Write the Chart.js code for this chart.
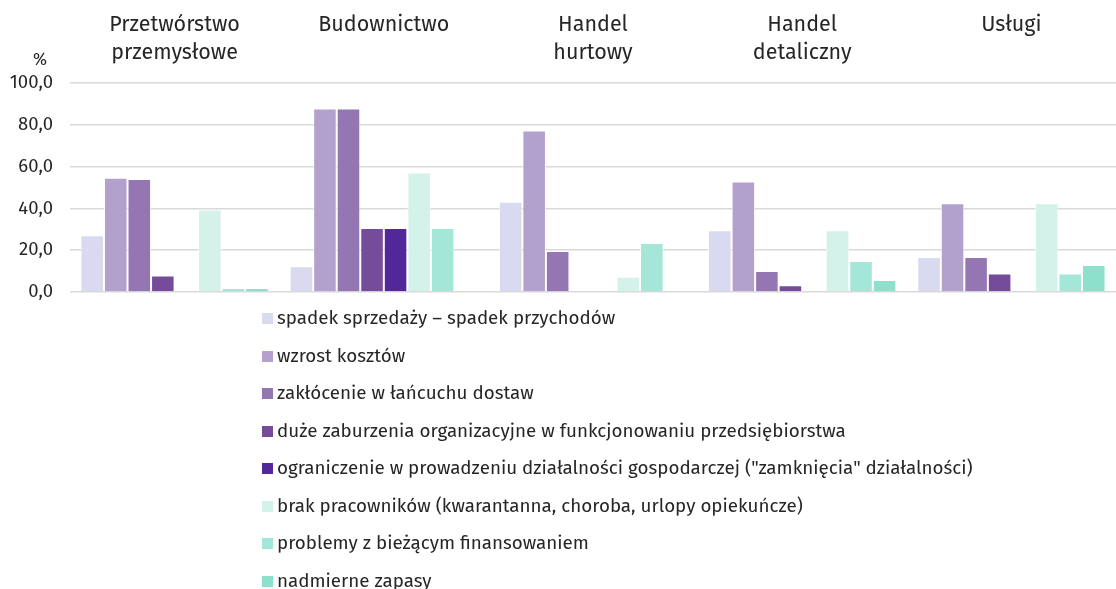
<!DOCTYPE html>
<html lang="pl">
<head>
<meta charset="utf-8">
<title>Skutki pandemii według sekcji</title>
<script src="https://cdn.jsdelivr.net/npm/chart.js@4/dist/chart.umd.min.js"></script>
<style>
  html, body { margin: 0; padding: 0; background: #fff; overflow: hidden; }
  body { position: relative; width: 1116px; height: 589px; font-family: "Fira Sans", "Noto Sans", Roboto, sans-serif; }
  #chartBox { position: absolute; left: 0; top: 0; width: 1116px; height: 320px; }
  #legend { position: absolute; left: 262px; top: 299px; margin: 0; padding: 0; list-style: none; color: #262626; font-size: 18.8px; }
  #legend li { height: 37.5px; line-height: 37.5px; white-space: nowrap; }
  #legend .box { display: inline-block; width: 11px; height: 11px; margin-right: 4px; vertical-align: 0px; }
</style>
</head>
<body>
<div id="chartBox"><canvas id="chart"></canvas></div>
<ul id="legend"></ul>
<script>
(function(){
  'use strict';

  // categories (top axis), each as lines
  const categories = [
    ['Przetwórstwo', 'przemysłowe'],
    ['Budownictwo', ''],
    ['Handel', 'hurtowy'],
    ['Handel', 'detaliczny'],
    ['Usługi', '']
  ];

  const seriesNames = [
    'spadek sprzedaży – spadek przychodów',
    'wzrost kosztów',
    'zakłócenie w łańcuchu dostaw',
    'duże zaburzenia organizacyjne w funkcjonowaniu przedsiębiorstwa',
    'ograniczenie w prowadzeniu działalności gospodarczej ("zamknięcia" działalności)',
    'brak pracowników (kwarantanna, choroba, urlopy opiekuńcze)',
    'problemy z bieżącym finansowaniem',
    'nadmierne zapasy'
  ];

  const spadekSprzedazy   = [27.1, 12.3, 43.1, 29.5, 16.7];
  const wzrostKosztow     = [54.7, 87.8, 77.3, 52.8, 42.4];
  const zaklocenieDostaw  = [54.0, 87.8, 19.6, 10.0, 16.7];
  const zaburzeniaOrg     = [7.9, 30.6, 0, 3.2, 8.8];
  const ograniczenieDzial = [0, 30.6, 0, 0, 0];
  const brakPracownikow   = [39.5, 57.1, 7.3, 29.5, 42.4];
  const problemyFinans    = [1.9, 30.6, 23.4, 14.8, 8.8];
  const nadmierneZapasy   = [1.9, 0, 0, 5.7, 12.9];

  const seriesValues = [spadekSprzedazy, wzrostKosztow, zaklocenieDostaw, zaburzeniaOrg,
                        ograniczenieDzial, brakPracownikow, problemyFinans, nadmierneZapasy];
  const seriesColors = ['#d9daef', '#b3a1cd', '#9476b2', '#744c99',
                        '#53279a', '#d4f1ea', '#a4e6d8', '#8de0cc'];

  const yTicks = [0, 20, 40, 60, 80, 100];

  const fontFamily = '"Fira Sans", "Noto Sans", Roboto, sans-serif';
  const textColor = '#262626';

  // "%" unit above the value axis
  const unitLabel = {
    id: 'unitLabel',
    afterDraw(chart){
      const y = chart.scales.y;
      const ctx = chart.ctx;
      ctx.save();
      ctx.font = '17px ' + fontFamily;
      ctx.fillStyle = textColor;
      ctx.textAlign = 'center';
      ctx.textBaseline = 'middle';
      ctx.fillText('%', y.left + 40, y.top - 23);
      ctx.restore();
    }
  };

  const datasets = seriesNames.map((name, i) => ({
    label: name,
    data: seriesValues[i],
    backgroundColor: seriesColors[i],
    borderColor: 'rgba(255,255,255,0.7)',
    borderWidth: 1,
    barPercentage: 1,
    categoryPercentage: 0.9
  }));

  const chart = new Chart(document.getElementById('chart'), {
    type: 'bar',
    data: { labels: categories, datasets: datasets },
    options: {
      responsive: true,
      maintainAspectRatio: false,
      animation: false,
      layout: { padding: { top: 0, bottom: 7, right: 0, left: 0 } },
      scales: {
        x: {
          position: 'top',
          afterFit(scale){ scale.height = 83; },
          grid: { display: false },
          border: { display: false },
          ticks: {
            color: textColor,
            font: { family: fontFamily, size: 21.5, lineHeight: 1.3 },
            padding: 8,
            maxRotation: 0,
            autoSkip: false
          }
        },
        y: {
          min: 0,
          max: 100,
          afterFit(scale){ scale.width = 70; },
          afterBuildTicks(scale){ scale.ticks = yTicks.map(v => ({ value: v })); },
          grid: { color: '#d9d9d9', lineWidth: 1.5, drawTicks: false },
          border: { display: false },
          ticks: {
            color: textColor,
            font: { family: fontFamily, size: 18.5 },
            padding: 17,
            callback: v => v.toFixed(1).replace('.', ',')
          }
        }
      },
      plugins: {
        legend: { display: false },
        tooltip: { enabled: false }
      }
    },
    plugins: [unitLabel]
  });

  // vertical html legend built from datasets
  const list = document.getElementById('legend');
  chart.data.datasets.forEach(ds => {
    const li = document.createElement('li');
    const box = document.createElement('span');
    box.className = 'box';
    box.style.background = ds.backgroundColor;
    li.appendChild(box);
    li.appendChild(document.createTextNode(ds.label));
    list.appendChild(li);
  });
})();
</script>
</body>
</html>
